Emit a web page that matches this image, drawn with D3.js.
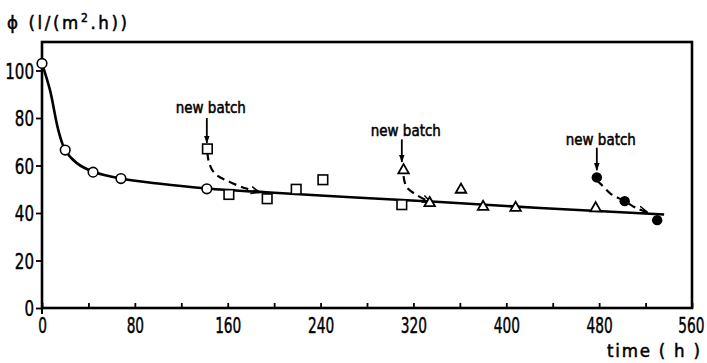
<!DOCTYPE html>
<html>
<head>
<meta charset="utf-8">
<script src="https://cdn.jsdelivr.net/npm/d3@7"></script>
<style>
  html, body { margin: 0; padding: 0; background: #fff; }
  svg text { font-family: "DejaVu Sans Condensed", "DejaVu Sans", sans-serif; fill: #000; }
</style>
</head>
<body>
<svg id="chart" width="707" height="363"></svg>
<script>
// Flux over time, first membrane batch (open circles)
const batch1 = [[0, 103], [20, 66.5], [44, 57.2], [68, 54.5], [142, 50.2]];
// Second batch (open squares)
const batch2 = [[142.5, 67], [161, 47.8], [194, 46], [219, 50], [242, 54], [310, 43.5]];
// Third batch (open triangles)
const batch3 = [[311.5, 58], [334, 44.2], [361, 49.8], [380, 42.6], [408, 42.2], [477, 42]];
// Fourth batch (filled circles)
const batch4 = [[478, 55], [502, 45], [530, 37]];

// Overall trend curve
const trend = [[0, 103], [7, 91.5], [14, 75], [20, 66.5], [30, 61], [44, 57.4], [68, 54.5],
               [100, 52.4], [142, 50.3], [200, 48.5], [274, 46.4], [343, 44.6], [429, 42.1], [536, 39.4]];

// Dashed decay paths after each new batch
const decay2 = [[142.5, 65.5], [144, 61], [149, 56.6], [162, 53], [176, 50.3], [187, 48.8]];
const decay3 = [[311.5, 55.5], [314, 51], [323, 47.5], [334.5, 44.6]];
const decay4 = [[478, 53.5], [481, 52.4], [489.7, 48.2], [502, 45], [512.7, 41.9], [521, 40.4]];

// "new batch" annotations: x, label y, arrow start y, arrow tip y
const annotations = [
  { x: 142, labelY: 82.3, from: 80, to: 69.5 },
  { x: 310, labelY: 72.5, from: 71, to: 61.5 },
  { x: 478, labelY: 68.8, from: 67.5, to: 58 }
];

const xTicksMajor = [0, 80, 160, 240, 320, 400, 480, 560];
const xTicksMinor = [40, 120, 200, 280, 360, 440, 520];
const yTicks = [0, 20, 40, 60, 80, 100];

const margin = { left: 42, right: 15, top: 42, bottom: 55 };
const W = 707, H = 363;
const svg = d3.select("#chart");

const x = d3.scaleLinear().domain([0, 560]).range([margin.left, W - margin.right]);
const y = d3.scaleLinear().domain([0, 112]).range([H - margin.bottom, margin.top]);

// Narrow digits: squeeze each label to a fixed width per character
const squeeze = (sel, perChar) => sel.each(function () {
  const t = d3.select(this).text();
  if (t.length) d3.select(this).attr("textLength", t.length * perChar).attr("lengthAdjust", "spacingAndGlyphs");
});

// Frame
svg.append("rect")
  .attr("x", x(0)).attr("y", y(112))
  .attr("width", x(560) - x(0)).attr("height", y(0) - y(112))
  .attr("fill", "none").attr("stroke", "#000").attr("stroke-width", 2.6);
// y axis stub below origin
svg.append("line").attr("x1", x(0)).attr("x2", x(0)).attr("y1", y(0)).attr("y2", y(0) + 6)
  .attr("stroke", "#000").attr("stroke-width", 2);

// y axis ticks (outside) and labels
const yAxis = d3.axisLeft(y).tickValues(yTicks).tickSize(6).tickPadding(2).tickFormat(d3.format("d"));
const gy = svg.append("g").attr("transform", `translate(${x(0)},0)`).call(yAxis);
gy.select(".domain").remove();
gy.selectAll(".tick line").attr("stroke-width", 1.8);
gy.selectAll(".tick text").attr("font-size", 21.5).attr("dy", "0.36em").attr("font-family", "DejaVu Sans")
  .attr("stroke", "#000").attr("stroke-width", 0.4)
  .call(squeeze, 9.6);

// x axis ticks (inside) and labels, digits narrowed horizontally
const narrow = 0.71;
const xAxis = d3.axisBottom(x).tickValues(xTicksMajor.concat(xTicksMinor)).tickSize(-5)
  .tickPadding(10).tickFormat(d => xTicksMajor.includes(d) ? d : "");
const gx = svg.append("g").attr("transform", `translate(0,${y(0)})`).call(xAxis);
gx.select(".domain").remove();
gx.selectAll(".tick line").attr("stroke-width", 1.8);
gx.selectAll(".tick text").attr("font-size", 21.5).attr("dy", "0.72em").attr("font-family", "DejaVu Sans")
  .attr("stroke", "#000").attr("stroke-width", 0.45)
  .attr("transform", `scale(${narrow},1)`);
// keep the last label inside the page: anchor it by its right edge
gx.selectAll(".tick text").filter(d => d === 560)
  .attr("text-anchor", "end").attr("x", 12 / narrow);

// Axis titles
const yt = svg.append("text").attr("x", 7).attr("y", 29).attr("font-size", 18.5)
  .attr("letter-spacing", 2.6).attr("stroke", "#000").attr("stroke-width", 0.5);
yt.append("tspan").text("ϕ (l/(m");
yt.append("tspan").attr("font-size", 12).attr("dy", -7).text("2");
yt.append("tspan").attr("dy", 7).text(".h))");

svg.append("text").attr("x", 607).attr("y", 357)
  .attr("font-size", 18.5).attr("stroke", "#000").attr("stroke-width", 0.5)
  .attr("textLength", 93).attr("lengthAdjust", "spacing")
  .text("time ( h )");

// Arrowhead markers
const defs = svg.append("defs");
defs.append("marker").attr("id", "arrowDown").attr("viewBox", "0 0 10 10")
  .attr("refX", 9).attr("refY", 5).attr("markerWidth", 8).attr("markerHeight", 8)
  .attr("markerUnits", "userSpaceOnUse").attr("orient", "auto")
  .append("path").attr("d", "M0,1.5 L10,5 L0,8.5 Z").attr("fill", "#000");
defs.append("marker").attr("id", "arrowOpen").attr("viewBox", "0 0 10 10")
  .attr("refX", 9).attr("refY", 5).attr("markerWidth", 9).attr("markerHeight", 9)
  .attr("markerUnits", "userSpaceOnUse").attr("orient", "auto")
  .append("path").attr("d", "M0,1 L10,5 L0,9").attr("fill", "none").attr("stroke", "#000").attr("stroke-width", 1.6);

const line = d3.line().x(d => x(d[0])).y(d => y(d[1])).curve(d3.curveCatmullRom.alpha(0.5));

// Trend curve
svg.append("path").datum(trend).attr("d", line)
  .attr("fill", "none").attr("stroke", "#000").attr("stroke-width", 2.6);

// Decay curves
[decay2, decay3, decay4].forEach(d => {
  svg.append("path").datum(d).attr("d", line)
    .attr("fill", "none").attr("stroke", "#000").attr("stroke-width", 2.2)
    .attr("stroke-dasharray", "8,5").attr("marker-end", "url(#arrowOpen)");
});

// Markers
svg.append("g").selectAll("circle").data(batch1).join("circle")
  .attr("cx", d => x(d[0])).attr("cy", d => y(d[1])).attr("r", 4.8)
  .attr("fill", "#fff").attr("stroke", "#000").attr("stroke-width", 1.6);

svg.append("g").selectAll("rect").data(batch2).join("rect")
  .attr("x", d => x(d[0]) - 4.8).attr("y", d => y(d[1]) - 4.8)
  .attr("width", 9.6).attr("height", 9.6)
  .attr("fill", "#fff").attr("stroke", "#000").attr("stroke-width", 1.6);

const tri = d3.symbol().type(d3.symbolTriangle).size(48);
svg.append("g").selectAll("path").data(batch3).join("path")
  .attr("transform", d => `translate(${x(d[0])},${y(d[1])})`).attr("d", tri)
  .attr("fill", "#fff").attr("stroke", "#000").attr("stroke-width", 1.8);

svg.append("g").selectAll("circle").data(batch4).join("circle")
  .attr("cx", d => x(d[0])).attr("cy", d => y(d[1])).attr("r", 5.2)
  .attr("fill", "#000");

// "new batch" labels with arrows
annotations.forEach(a => {
  svg.append("text").attr("x", x(a.x) - 31).attr("y", y(a.labelY))
    .attr("font-size", 15.5).attr("stroke", "#000").attr("stroke-width", 0.5)
    .attr("textLength", 70).attr("lengthAdjust", "spacingAndGlyphs")
    .text("new batch");
  svg.append("line").attr("x1", x(a.x)).attr("x2", x(a.x))
    .attr("y1", y(a.from)).attr("y2", y(a.to))
    .attr("stroke", "#000").attr("stroke-width", 1.8).attr("marker-end", "url(#arrowDown)");
});
</script>
</body>
</html>
